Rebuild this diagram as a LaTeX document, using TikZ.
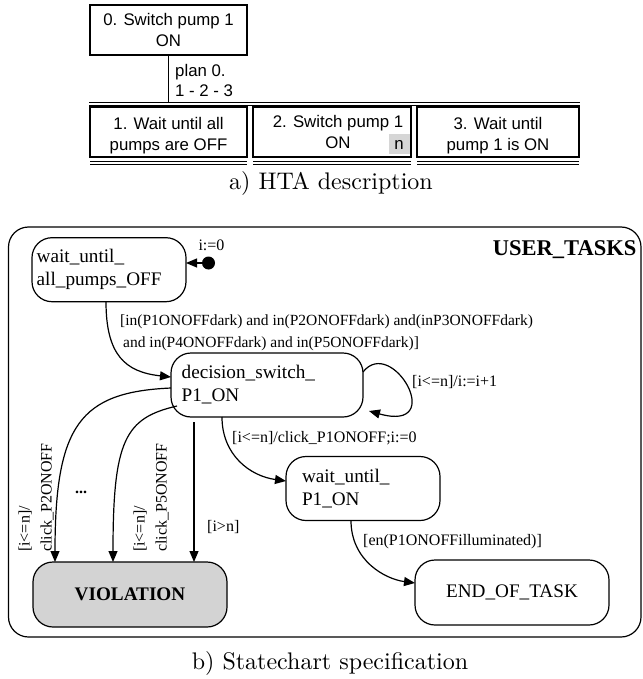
\documentclass[tikz,border=0pt]{standalone}
\usepackage{fontspec}
\usetikzlibrary{arrows.meta,calc}
\newfontfamily\htafont{Liberation Sans}
\newfontfamily\scfont{Liberation Serif}
\definecolor{violgray}{RGB}{211,211,211}
\definecolor{ngray}{RGB}{214,214,214}
\tikzset{
  htabox/.style={draw, line width=1.3pt, minimum height=50pt, inner sep=0pt, outer sep=0pt, align=center, font=\htafont\fontsize{16.8}{20.6}\selectfont},
  htalbl/.style={inner sep=0pt, align=left, font=\htafont\fontsize{16.8}{20.6}\selectfont},
  hline/.style={line width=1.3pt},
  hlinetwo/.style={line width=0.9pt},
  state/.style={draw, line width=1.2pt, rounded corners=20pt, minimum height=64pt, inner sep=0pt, outer sep=0pt, align=left, font=\scfont\fontsize{19.2}{23}\selectfont},
  trlbl/.style={inner sep=0pt, align=left, font=\scfont\fontsize{16}{22}\selectfont},
  trans/.style={line width=1.2pt, -{Triangle[length=11pt,width=9pt]}},
  captionnode/.style={inner sep=0pt, font=\fontsize{10}{12}\selectfont, scale=2.4},
}
\begin{document}
\begin{tikzpicture}[x=1pt,y=1pt]
\useasboundingbox (0,0) rectangle (642,-679);
% ---------------- HTA ----------------
\node[htabox, minimum width=157pt] (b0) at (168.5,-30) {0. Switch pump 1\\ON};
\coordinate (barL) at (89,-102.5);
\coordinate (barR) at (580,-102.5);
\coordinate (barLtwo) at (89,-105.8);
\coordinate (barRtwo) at (580,-105.8);
\draw[hline] (barL) -- (barR);
\draw[hlinetwo] (barLtwo) -- (barRtwo);
\draw[hline] (b0.south) -- (b0.south |- barL);
\node[htalbl, anchor=north west] (plan) at (175,-63.8) {plan 0.\\1 - 2 - 3};
\node[htabox, minimum width=157pt] (b1) at (168.5,-132) {\rule{0pt}{20pt}1. Wait until all\\pumps are OFF};
\node[htabox, minimum width=158pt] (b2) at (332,-132) {\hspace*{12pt}2. Switch pump 1\\\hspace*{12pt}ON};
\node[htabox, minimum width=162pt] (b3) at (498,-132) {\rule{0pt}{20pt}3. Wait until\\pump 1 is ON};
\node[fill=ngray, minimum width=21pt, minimum height=20pt, inner sep=0pt, font=\htafont\fontsize{16.8}{20}\selectfont] (nb) at (399,-144.5) {n};
\foreach \b in {b1,b2,b3}{
  \draw[hlinetwo] ([yshift=-4.5pt]\b.south west) -- ([yshift=-4.5pt]\b.south east);
  \draw[hlinetwo] ([yshift=-7pt]\b.south west) -- ([yshift=-7pt]\b.south east);
}
\node[captionnode] (capA) at (331,-183.5) {a) HTA description};
% ---------------- Statechart ----------------
\draw[line width=1.2pt, rounded corners=20pt] (8.5,-227) rectangle (641,-637);
\node[inner sep=0pt, anchor=base east, font=\scfont\bfseries\fontsize{22.5}{26}\selectfont] (ut) at (636.5,-255) {USER\_TASKS};
\node[state, minimum width=154pt, text width=144.6pt] (w1) at (109,-269.7) {wait\_until\_\\all\_pumps\_OFF};
\node[state, minimum width=192pt, text width=170.6pt] (d) at (267,-385) {decision\_switch\_\\P1\_ON};
\node[state, minimum width=154pt, text width=122pt] (w2) at (363,-488.5) {wait\_until\_\\P1\_ON};
\node[state, fill=violgray, minimum width=194pt, minimum height=65pt, align=center, font=\scfont\bfseries\fontsize{19.2}{23}\selectfont] (V) at (130,-594.5) {VIOLATION};
\node[state, minimum width=194pt, minimum height=65pt, align=center] (E) at (512,-592.5) {END\_OF\_TASK};
% initial
\node[circle, fill=black, minimum size=13pt, inner sep=0pt] (init) at (208.5,-263) {};
\draw[trans] (init) -- (w1.east |- init);
\node[trlbl] (izero) at (211.5,-245) {i:=0};
% transitions
\draw[trans] ([xshift=-3pt]w1.south) .. controls +(0,-53) and +(-46,5) .. ([yshift=8pt]d.west);
\node[trlbl, anchor=north west, font=\scfont\fontsize{15.5}{21.7}\selectfont] (cone) at (120,-314.4) {[in(P1ONOFFdark) and in(P2ONOFFdark) and(inP3ONOFFdark)\\\hspace*{3pt}and in(P4ONOFFdark) and in(P5ONOFFdark)]};
\draw[trans] ([yshift=13pt]d.east) .. controls +(29,37) and +(79,-22) .. ([xshift=6pt,yshift=-26pt]d.east);
\node[trlbl, anchor=base west] (ctwo) at (412,-386.7) {[i<=n]/i:=i+1};
\draw[trans] ([xshift=-45pt]d.south) .. controls +(0,-38) and +(-36,5) .. ([yshift=7.5pt]w2.west);
\node[trlbl, anchor=base west] (cthree) at (232,-442.5) {[i<=n]/click\_P1ONOFF;i:=0};
\draw[trans] ([xshift=-12pt]w2.south) .. controls +(0,-40) and +(-30,4) .. ([yshift=9.5pt]E.west);
\node[trlbl, anchor=base west] (cfour) at (363,-545) {[en(P1ONOFFilluminated)]};
\draw[trans] ([yshift=-3pt]d.west) .. controls +(-91,-4) and +(0,137) .. ([xshift=-75pt]V.north);
\draw[trans] ([xshift=6pt,yshift=-21pt]d.west) .. controls +(-52,-12) and +(0,122) .. ([xshift=-17pt]V.north);
\draw[trans] ([xshift=-73pt,yshift=-5pt]d.south) -- ([xshift=64pt]V.north);
\node[trlbl, rotate=90, anchor=west] (cfive) at (36,-552) {[i<=n]/\\click\_P2ONOFF};
\node[trlbl, rotate=90, anchor=west] (csix) at (151,-552) {[i<=n]/\\click\_P5ONOFF};
\node[inner sep=0pt, anchor=base, font=\scfont\bfseries\fontsize{16}{20}\selectfont] (dots) at (81,-493) {...};
\node[trlbl, anchor=base west] (cseven) at (207,-531.7) {[i>n]};
\node[captionnode] (capB) at (330,-663) {b) Statechart specification};
\end{tikzpicture}
\end{document}
